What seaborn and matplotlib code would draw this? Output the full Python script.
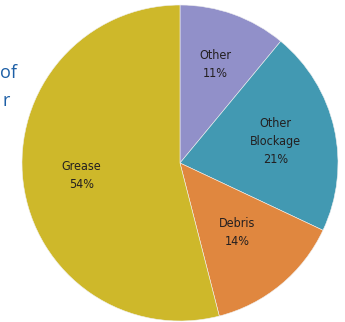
import matplotlib
matplotlib.use("Agg")
import matplotlib.pyplot as plt
import seaborn as sns

categories = ["Other", "Other\nBlockage", "Debris", "Grease"]
values = [11, 21, 14, 54]
colors = ["#9190c9", "#4299b2", "#e0873f", "#ceb82a"]
label_dist = [0.66, 0.62, 0.57, 0.63]

sns.set_style("white")
plt.rcParams['font.family'] = ['DejaVu Sans']

fig = plt.figure(figsize=(3.45, 3.22), dpi=100)
ax = fig.add_axes([22/345, 1/322, 316/345, 316/322])
palette = sns.color_palette(colors)

def fmt_factory():
    idx = {"i": 0}
    def f(p):
        lab = categories[idx["i"]]
        idx["i"] += 1
        return f"{lab}\n{p:.0f}%"
    return f

wedges, texts, autotexts = ax.pie(values, colors=palette, startangle=90, counterclock=False,
                                  autopct=fmt_factory(), pctdistance=0.63,
                                  wedgeprops=dict(linewidth=0.4, edgecolor="#f0f0f0"),
                                  textprops=dict(fontsize=9, color="#231f20", linespacing=1.5,
                                                 fontstretch="condensed"))
for t, d in zip(autotexts, label_dist):
    x, y = t.get_position()
    t.set_position((x / 0.63 * d, y / 0.63 * d))
ax.set_xlim(-1, 1)
ax.set_ylim(-1, 1)
ax.set_aspect("equal")
ax.axis("off")

fig.text(0.0, 0.773, "of", fontsize=13, color="#1d5fa6", family=['Open Sans', 'DejaVu Sans'], va="center")
fig.text(0.006, 0.685, "r", fontsize=13, color="#1d5fa6", family=['Open Sans', 'DejaVu Sans'], va="center")

fig.savefig("out.png", dpi=100)
